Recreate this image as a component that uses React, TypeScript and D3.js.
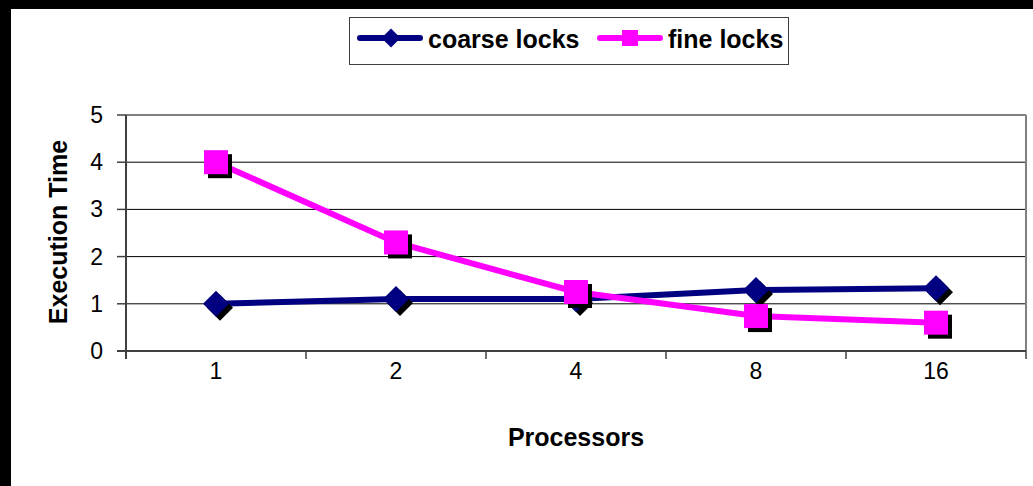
import React from "react";
import * as d3 from "d3";

const processors = ["1", "2", "4", "8", "16"];
const coarseLocks = [1.0, 1.1, 1.1, 1.29, 1.33];
const fineLocks = [4.0, 2.3, 1.25, 0.74, 0.6];
const yTicks = [0, 1, 2, 3, 4, 5];

const W = 1033;
const H = 486;
const plot = { left: 126, right: 1026, top: 115, bottom: 351 };
const FONT = "Arial, 'Liberation Sans', sans-serif";

export default function App() {
  const x = d3
    .scaleBand<string>()
    .domain(processors)
    .range([plot.left, plot.right])
    .paddingInner(0)
    .paddingOuter(0);
  const cx = (c: string) => (x(c) as number) + x.bandwidth() / 2;
  const y = d3.scaleLinear().domain([0, 5]).range([plot.bottom, plot.top]);

  const line = d3
    .line<number>()
    .x((_, i) => cx(processors[i]))
    .y((v) => y(v));

  const diamond = (px: number, py: number, r: number) =>
    `M${px},${py - r}L${px + r},${py}L${px},${py + r}L${px - r},${py}Z`;

  const boundaries = processors.map((c) => (x(c) as number) + x.bandwidth());
  const sh = 4;

  return (
    <svg
      width={W}
      height={H}
      style={{ position: "absolute", left: 0, top: 0 }}
      fontFamily={FONT}
    >
      <rect x={0} y={0} width={W} height={H} fill="#000" />
      <rect x={11} y={9} width={W - 11} height={H - 9} fill="#fff" />

      {/* gridlines */}
      {yTicks
        .filter((t) => t > 0 && t < 5)
        .map((t) => (
          <line
            key={`g${t}`}
            x1={plot.left}
            x2={plot.right}
            y1={y(t)}
            y2={y(t)}
            stroke="#000"
            strokeWidth={1}
          />
        ))}
      {/* plot border */}
      <line x1={plot.left} x2={plot.right} y1={y(5)} y2={y(5)} stroke="#808080" strokeWidth={2} />
      <line x1={plot.right} x2={plot.right} y1={plot.top} y2={plot.bottom} stroke="#808080" strokeWidth={2} />

      {/* axes */}
      <line x1={plot.left} x2={plot.left} y1={plot.top} y2={plot.bottom + 8} stroke="#404040" strokeWidth={2} />
      <line x1={plot.left - 9} x2={plot.right} y1={plot.bottom} y2={plot.bottom} stroke="#404040" strokeWidth={2} />
      {yTicks.map((t) => (
        <g key={`yt${t}`}>
          <line x1={plot.left - 9} x2={plot.left} y1={y(t)} y2={y(t)} stroke="#404040" strokeWidth={1.5} />
          <text
            x={103}
            y={y(t)}
            textAnchor="end"
            dominantBaseline="central"
            fontSize={23}
            fill="#000"
          >
            {t}
          </text>
        </g>
      ))}
      {boundaries.map((b, i) => (
        <line key={`xt${i}`} x1={b} x2={b} y1={plot.bottom} y2={plot.bottom + 8} stroke="#404040" strokeWidth={1.5} />
      ))}
      {processors.map((c) => (
        <text key={`xl${c}`} x={cx(c)} y={379} textAnchor="middle" fontSize={23} fill="#000">
          {c}
        </text>
      ))}

      <text x={576} y={446} textAnchor="middle" fontSize={25} fontWeight="bold" fill="#000">
        Processors
      </text>
      <text
        transform={`translate(67,232) rotate(-90)`}
        textAnchor="middle"
        fontSize={25}
        fontWeight="bold"
        fill="#000"
      >
        Execution Time
      </text>

      {/* coarse locks series */}
      <path d={line(coarseLocks) ?? ""} fill="none" stroke="#000080" strokeWidth={6} />
      {coarseLocks.map((v, i) => (
        <path key={`cs${i}`} d={diamond(cx(processors[i]) + sh, y(v) + sh, 13)} fill="#000" />
      ))}
      {coarseLocks.map((v, i) => (
        <path key={`cm${i}`} d={diamond(cx(processors[i]), y(v), 13)} fill="#000080" />
      ))}

      {/* fine locks series */}
      <path d={line(fineLocks) ?? ""} fill="none" stroke="#ff00ff" strokeWidth={6} />
      {fineLocks.map((v, i) => (
        <rect key={`fs${i}`} x={cx(processors[i]) - 12 + sh} y={y(v) - 12 + sh} width={24} height={24} fill="#000" />
      ))}
      {fineLocks.map((v, i) => (
        <rect key={`fm${i}`} x={cx(processors[i]) - 12} y={y(v) - 12} width={24} height={24} fill="#ff00ff" />
      ))}

      {/* legend */}
      <rect x={349.5} y={17.5} width={439} height={47} fill="#fff" stroke="#404040" strokeWidth={1} />
      <line x1={360} x2={420} y1={38} y2={38} stroke="#000080" strokeWidth={6} strokeLinecap="round" />
      <path d={diamond(391, 38, 9.5)} fill="#000080" />
      <text x={428} y={48} fontSize={25} fontWeight="bold" fill="#000">
        coarse locks
      </text>
      <line x1={600} x2={660} y1={38} y2={38} stroke="#ff00ff" strokeWidth={6} strokeLinecap="round" />
      <rect x={622} y={30} width={16} height={16} fill="#ff00ff" />
      <text x={668} y={48} fontSize={25} fontWeight="bold" fill="#000">
        fine locks
      </text>
    </svg>
  );
}
